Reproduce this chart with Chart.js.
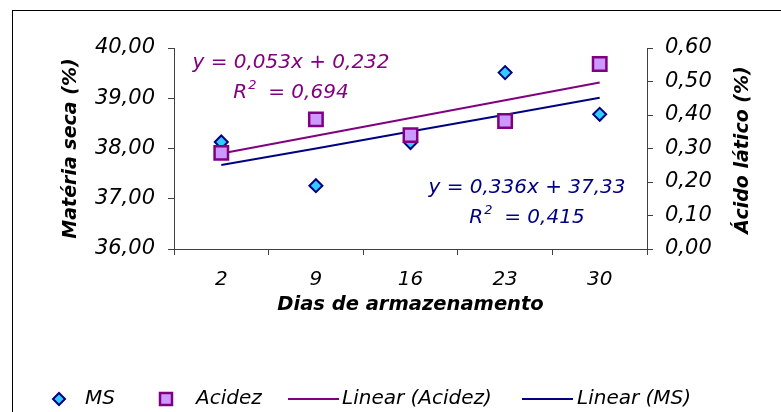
<!DOCTYPE html>
<html>
<head>
<meta charset="utf-8">
<script src="https://cdn.jsdelivr.net/npm/chart.js@4.4.0/dist/chart.umd.min.js"></script>
<style>
  html, body { margin: 0; padding: 0; background: #fff; }
  #wrap { width: 781px; height: 412px; }
</style>
</head>
<body>
<div id="wrap"><canvas id="myChart" width="781" height="412"></canvas></div>
<script>
"use strict";

// days of storage (x categories)
const days = ['2', '9', '16', '23', '30'];
// dry matter (%), left axis
const ms = [38.13, 37.26, 38.12, 39.51, 38.68];
// lactic acid (%), right axis
const acidez = [0.287, 0.387, 0.340, 0.382, 0.552];
// trend lines as shown in the picture
const linMS = [37.67, 38.00, 38.34, 38.67, 39.01];
const linAcidez = [0.285, 0.338, 0.391, 0.444, 0.497];
// tick labels
const leftTicks = ['36,00', '37,00', '38,00', '39,00', '40,00'];
const rightTicks = ['0,00', '0,10', '0,20', '0,30', '0,40', '0,50', '0,60'];

const NAVY = '#000080';
const PURPLE = '#800080';
const CYAN = '#33ccff';
const LILAC = '#cc99ff';
const AXIS = '#404040';
const SANS = '"DejaVu Sans", Verdana, sans-serif';

// frame, right title, equations and legend
const extras = {
    id: 'extras',
    afterDraw(chart) {
        const c = chart.ctx;
        c.save();
        c.strokeStyle = '#000';
        c.lineWidth = 1;
        c.strokeRect(12.5, 10.5, 1000, 1000);

        // right axis title (reads bottom to top)
        c.save();
        c.translate(743, 150);
        c.rotate(-Math.PI / 2);
        c.font = 'italic bold 19px ' + SANS;
        c.fillStyle = '#000';
        c.textAlign = 'center';
        c.textBaseline = 'middle';
        c.fillText('Ácido lático (%)', 0, 0);
        c.restore();

        // equations
        function eq(text, r2, cx, y1, y2, color) {
            const big = 'italic 20px ' + SANS;
            const small = 'italic 13px ' + SANS;
            c.fillStyle = color;
            c.textBaseline = 'middle';
            c.textAlign = 'center';
            c.font = big;
            c.fillText(text, cx, y1);
            const wR = c.measureText('R').width;
            const wRest = c.measureText('  = ' + r2).width;
            c.font = small;
            const w2 = c.measureText('2').width;
            const x = cx - (wR + w2 + wRest) / 2;
            c.textAlign = 'left';
            c.font = big;
            c.fillText('R', x, y2);
            c.font = small;
            c.fillText('2', x + wR + 1, y2 - 7);
            c.font = big;
            c.fillText('  = ' + r2, x + wR + w2, y2);
        }
        eq('y = 0,053x + 0,232', '0,694', 291, 63, 93, PURPLE);
        eq('y = 0,336x + 37,33', '0,415', 527, 188, 218, NAVY);

        // legend
        const ly = 399;
        c.font = 'italic 20px ' + SANS;
        c.textAlign = 'left';
        c.textBaseline = 'middle';
        // MS diamond
        c.beginPath();
        c.moveTo(59, ly - 6); c.lineTo(65, ly); c.lineTo(59, ly + 6); c.lineTo(53, ly); c.closePath();
        c.fillStyle = CYAN; c.fill();
        c.strokeStyle = NAVY; c.lineWidth = 2; c.stroke();
        c.fillStyle = '#000';
        c.fillText('MS', 85, ly);
        // Acidez square
        c.fillStyle = LILAC;
        c.fillRect(160, ly - 6, 12, 12);
        c.strokeStyle = PURPLE; c.lineWidth = 2.5;
        c.strokeRect(160, ly - 6, 12, 12);
        c.fillStyle = '#000';
        c.fillText('Acidez', 196, ly);
        // trend lines
        c.lineWidth = 2;
        c.strokeStyle = PURPLE;
        c.beginPath(); c.moveTo(288, ly); c.lineTo(339, ly); c.stroke();
        c.fillText('Linear (Acidez)', 342, ly);
        c.strokeStyle = NAVY;
        c.beginPath(); c.moveTo(522, ly); c.lineTo(573, ly); c.stroke();
        c.fillText('Linear (MS)', 577, ly);
        c.restore();
    }
};

const ctx = document.getElementById('myChart');
const myChart = new Chart(ctx, {
    type: 'line',
    data: {
        labels: days,
        datasets: [{
            label: 'Linear (Acidez)',
            data: linAcidez,
            yAxisID: 'y1',
            borderColor: PURPLE,
            borderWidth: 2,
            pointRadius: 0,
            order: 3
        }, {
            label: 'Linear (MS)',
            data: linMS,
            yAxisID: 'y',
            borderColor: NAVY,
            borderWidth: 2,
            pointRadius: 0,
            order: 4
        }, {
            label: 'MS',
            data: ms,
            yAxisID: 'y',
            showLine: false,
            pointStyle: 'rectRot',
            pointRadius: 6.5,
            backgroundColor: CYAN,
            borderColor: NAVY,
            borderWidth: 2,
            order: 2
        }, {
            label: 'Acidez',
            data: acidez,
            yAxisID: 'y1',
            showLine: false,
            pointStyle: 'rect',
            pointRadius: 9.5,
            backgroundColor: LILAC,
            borderColor: PURPLE,
            borderWidth: 2.5,
            order: 1
        }]
    },
    options: {
        responsive: false,
        animation: false,
        events: [],
        layout: { padding: { left: 0, right: 0, top: 48, bottom: 93 } },
        plugins: {
            legend: { display: false },
            tooltip: { enabled: false }
        },
        scales: {
            x: {
                offset: true,
                grid: { offset: true, drawOnChartArea: false, tickLength: 6, color: AXIS },
                border: { color: AXIS, width: 1 },
                ticks: { color: '#000', padding: 13, font: { family: SANS, style: 'italic', size: 20 } },
                title: {
                    display: true,
                    text: 'Dias de armazenamento',
                    color: '#000',
                    padding: { top: 0, bottom: 2 },
                    font: { family: SANS, style: 'italic', weight: 'bold', size: 19.5 }
                },
                afterFit(s) { s.height = 70; }
            },
            y: {
                position: 'left',
                min: 36,
                max: 40,
                ticks: {
                    stepSize: 1,
                    color: '#000',
                    padding: 13,
                    font: { family: SANS, style: 'italic', size: 21 },
                    callback: (v, i) => leftTicks[i]
                },
                grid: { drawOnChartArea: false, tickLength: 6, color: AXIS },
                border: { color: AXIS, width: 1 },
                title: {
                    display: true,
                    text: 'Matéria seca (%)',
                    color: '#000',
                    padding: { top: 60, bottom: 0 },
                    font: { family: SANS, style: 'italic', weight: 'bold', size: 19 }
                },
                afterFit(s) { s.width = 174; }
            },
            y1: {
                position: 'right',
                min: 0,
                max: 0.6,
                ticks: {
                    stepSize: 0.1,
                    color: '#000',
                    padding: 12,
                    font: { family: SANS, style: 'italic', size: 21 },
                    callback: (v, i) => rightTicks[i]
                },
                grid: { drawOnChartArea: false, tickLength: 6, color: AXIS },
                border: { color: AXIS, width: 1 },
                afterFit(s) { s.width = 134; }
            }
        }
    },
    plugins: [extras]
});
</script>
</body>
</html>
